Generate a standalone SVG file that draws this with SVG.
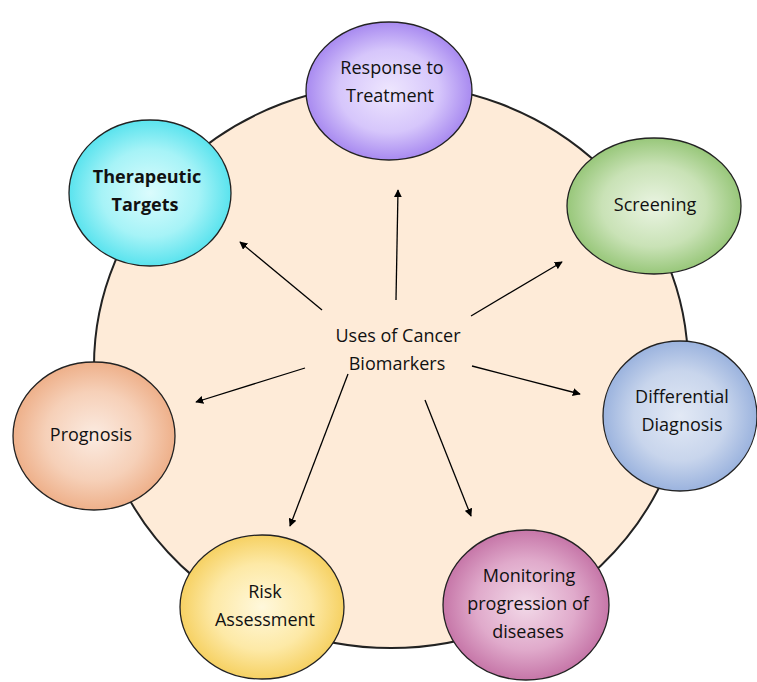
<svg xmlns="http://www.w3.org/2000/svg" width="757" height="682" viewBox="0 0 757 682">
<style>
.t{font-family:"Open Sans","Liberation Sans",sans-serif;font-size:18px;fill:#111;text-anchor:middle}
.b{font-weight:bold}
.node{stroke:#222;stroke-width:1.3}
.conn line{stroke:#000;stroke-width:1.3;marker-end:url(#ah)}
</style>
<defs>
<marker id="ah" viewBox="0 0 10 10" refX="9" refY="5" markerWidth="8" markerHeight="8" markerUnits="userSpaceOnUse" orient="auto">
<path d="M0,0 L10,5 L0,10 z" fill="#000"/>
</marker>
<radialGradient id="gP"><stop offset="0" stop-color="#eee6fe"/><stop offset="0.6" stop-color="#d6c6fb"/><stop offset="1" stop-color="#a88af0"/></radialGradient>
<radialGradient id="gC"><stop offset="0" stop-color="#dbfcfd"/><stop offset="0.6" stop-color="#a6f3f7"/><stop offset="1" stop-color="#5ae3ee"/></radialGradient>
<radialGradient id="gG"><stop offset="0" stop-color="#eaf4e2"/><stop offset="0.6" stop-color="#c9e2b6"/><stop offset="1" stop-color="#98c77a"/></radialGradient>
<radialGradient id="gB"><stop offset="0" stop-color="#e2e9f5"/><stop offset="0.6" stop-color="#c8d5ec"/><stop offset="1" stop-color="#9bb3de"/></radialGradient>
<radialGradient id="gM"><stop offset="0" stop-color="#f2d9e8"/><stop offset="0.6" stop-color="#e0aacb"/><stop offset="1" stop-color="#c676a8"/></radialGradient>
<radialGradient id="gY"><stop offset="0" stop-color="#fff8dc"/><stop offset="0.6" stop-color="#fde9a6"/><stop offset="1" stop-color="#f6d163"/></radialGradient>
<radialGradient id="gO"><stop offset="0" stop-color="#fbebe1"/><stop offset="0.6" stop-color="#f6d0b8"/><stop offset="1" stop-color="#eeb08a"/></radialGradient>
</defs>
<rect width="757" height="682" fill="#fff"/>
<g id="hub">
<ellipse cx="391" cy="366" rx="297" ry="282" fill="#feebd8" stroke="#222" stroke-width="2"/>
<text class="t" x="398" y="342">Uses of Cancer</text>
<text class="t" x="397" y="370">Biomarkers</text>
</g>
<g id="connectors" class="conn">
<line x1="322" y1="310" x2="240" y2="242"/>
<line x1="396" y1="300" x2="398" y2="190"/>
<line x1="471" y1="316" x2="562" y2="262"/>
<line x1="472" y1="366" x2="580" y2="394"/>
<line x1="425" y1="400" x2="471" y2="516"/>
<line x1="348" y1="374" x2="290" y2="526"/>
<line x1="305" y1="368" x2="196" y2="402"/>
</g>
<g id="response">
<ellipse class="node" cx="389" cy="91" rx="83" ry="69" fill="url(#gP)"/>
<text class="t" x="392" y="74">Response to</text>
<text class="t" x="390" y="102">Treatment</text>
</g>
<g id="therapeutic">
<ellipse class="node" cx="150" cy="193" rx="81" ry="73" fill="url(#gC)" stroke="#4a6a8a"/>
<text class="t b" x="147" y="183">Therapeutic</text>
<text class="t b" x="145" y="211">Targets</text>
</g>
<g id="screening">
<ellipse class="node" cx="654" cy="206" rx="87" ry="68" fill="url(#gG)"/>
<text class="t" x="655" y="211">Screening</text>
</g>
<g id="differential">
<ellipse class="node" cx="680" cy="416" rx="77" ry="75" fill="url(#gB)"/>
<text class="t" x="682" y="403">Differential</text>
<text class="t" x="682" y="431">Diagnosis</text>
</g>
<g id="monitoring">
<ellipse class="node" cx="526" cy="605" rx="83" ry="75" fill="url(#gM)"/>
<text class="t" x="529" y="582">Monitoring</text>
<text class="t" x="528" y="610">progression of</text>
<text class="t" x="528" y="638">diseases</text>
</g>
<g id="risk">
<ellipse class="node" cx="262" cy="607" rx="82" ry="72" fill="url(#gY)"/>
<text class="t" x="265" y="598">Risk</text>
<text class="t" x="265" y="626">Assessment</text>
</g>
<g id="prognosis">
<ellipse class="node" cx="94" cy="436" rx="81" ry="74" fill="url(#gO)"/>
<text class="t" x="91" y="441">Prognosis</text>
</g>
</svg>
